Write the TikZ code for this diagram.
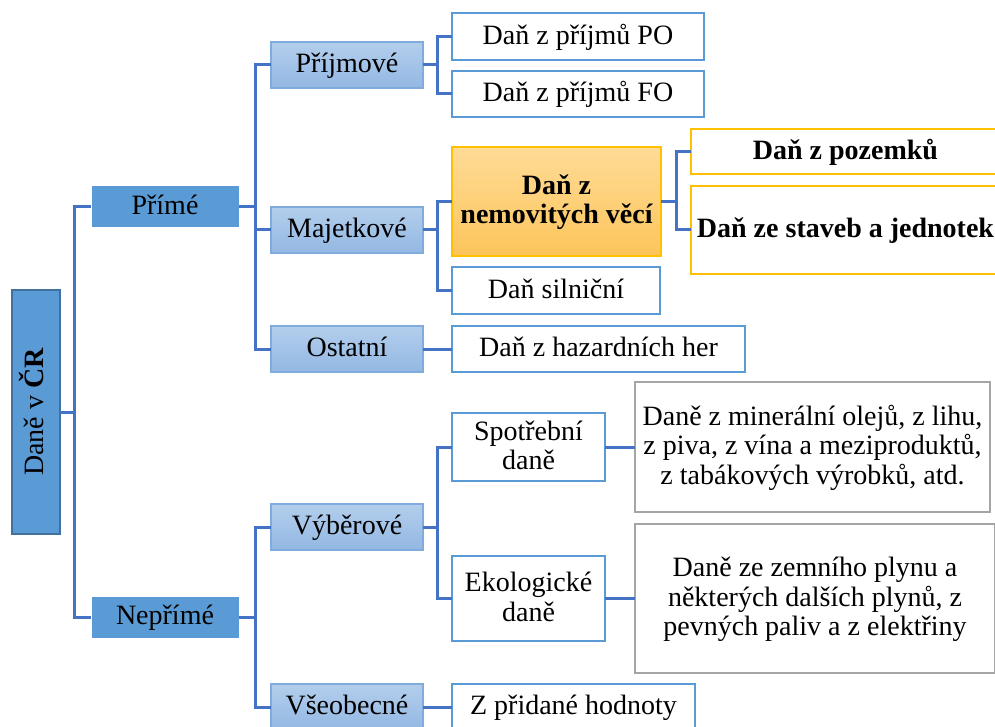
\documentclass[tikz,border=0pt]{standalone}
\usepackage{fontspec}
\setmainfont{Liberation Serif}
\definecolor{midblue}{HTML}{5B9BD5}
\definecolor{rootedge}{HTML}{41719C}
\definecolor{linkblue}{HTML}{4472C4}
\definecolor{paletop}{HTML}{B3CEEC}
\definecolor{palebot}{HTML}{93B8E3}
\definecolor{paleedge}{HTML}{7FACDD}
\definecolor{ambertop}{HTML}{FFDB97}
\definecolor{amberbot}{HTML}{FCC55A}
\definecolor{amberedge}{HTML}{FFC000}
\definecolor{greyedge}{HTML}{A5A5A5}
% fixed ascent for the first line of a multi-line label
\newcommand\topstrut{\rule{0pt}{25.5pt}}
\begin{document}
\begin{tikzpicture}[x=1pt,y=-1pt,
  every node/.style={inner sep=0pt,outer sep=0pt,align=center,
    font=\fontsize{28}{29.5}\selectfont,
    % fixed ascent and descent, so every label sits at the same height in its box
    execute at begin node={\rule{0pt}{25.5pt}},
    execute at end node={\rule[-10pt]{0pt}{0pt}}},
  rootbox/.style={fill=midblue,draw=rootedge,line width=2pt},
  mainbox/.style={fill=midblue,draw=white,line width=1pt},
  groupbox/.style={top color=paletop,bottom color=palebot,draw=paleedge,line width=1.6pt},
  leafbox/.style={fill=white,draw=midblue,line width=2.6pt},
  amberbox/.style={top color=ambertop,bottom color=amberbot,draw=amberedge,line width=1.6pt,
    font=\fontsize{28}{28.5}\selectfont\bfseries},
  goldbox/.style={fill=white,draw=amberedge,line width=2.6pt,font=\fontsize{28}{29.5}\selectfont\bfseries},
  greybox/.style={fill=white,draw=greyedge,line width=2.6pt},
  link/.style={draw=linkblue,line width=3pt}]
\useasboundingbox (0,0) rectangle (995,727);

% root
\node[rootbox,rotate=90,minimum width=244pt,minimum height=48pt] (root) at (36,412) {Daně v \textbf{ČR}};

% first level
\node[mainbox,minimum width=148pt,minimum height=42pt] (prime) at (165,207) {Přímé};
\node[mainbox,minimum width=148pt,minimum height=42pt] (neprime) at (165,617) {Nepřímé};

% second level
\node[groupbox,minimum width=152pt,minimum height=46pt] (prijm) at (347,65) {Příjmové};
\node[groupbox,minimum width=152pt,minimum height=46pt] (majet) at (347,230) {Majetkové};
\node[groupbox,minimum width=152pt,minimum height=46pt] (ostat) at (347,349) {Ostatní};
\node[groupbox,minimum width=152pt,minimum height=46pt] (vyber) at (347,527) {Výběrové};
\node[groupbox,minimum width=152pt,minimum height=46pt] (vseob) at (347,707) {Všeobecné};

% third level
\node[leafbox,minimum width=252pt,minimum height=47pt] (po) at (578,36.5) {Daň z příjmů PO};
\node[leafbox,minimum width=252pt,minimum height=46pt] (fo) at (578,94) {Daň z příjmů FO};
\node[amberbox,minimum width=209pt,minimum height=109pt] (nemov) at (556.5,201.5) {\topstrut Daň z\\nemovitých věcí};
\node[leafbox,minimum width=208pt,minimum height=47pt] (silnic) at (556,290.5) {Daň silniční};
\node[leafbox,minimum width=293pt,minimum height=46pt] (hazard) at (598.5,349) {Daň z hazardních her};
\node[leafbox,minimum width=153pt,minimum height=68pt] (spotr) at (528.5,447) {\topstrut Spotřební\\daně};
\node[leafbox,minimum width=153pt,minimum height=85pt] (ekol) at (528.5,598.5) {\topstrut Ekologické\\daně};
\node[leafbox,minimum width=243pt,minimum height=46pt] (dph) at (573.5,707) {Z přidané hodnoty};

% fourth level
\node[goldbox,minimum width=309pt,minimum height=45pt] (pozem) at (845.5,151.5) {Daň z pozemků};
\node[goldbox,minimum width=309pt,minimum height=88pt] (staveb) at (845.5,230) {Daň ze staveb a jednotek};
\node[greybox,minimum width=355pt,minimum height=130pt] (spotrlist) at (812.5,447)
  {\topstrut Daně z minerální olejů, z lihu,\\z piva, z vína a meziproduktů,\\z tabákových výrobků, atd.};
\node[greybox,minimum width=360pt,minimum height=149pt] (ekollist) at (815,598.5)
  {\topstrut Daně ze zemního plynu a\\některých dalších plynů, z\\pevných paliv a z elektřiny};

% connectors
\draw[link] (root.south) -- ++(14,0) |- (prime.west);
\draw[link] (root.south) -- ++(14,0) |- (neprime.west);
\draw[link] (prime.east) -- ++(16,0) |- (prijm.west);
\draw[link] (prime.east) -- ++(16,0) |- (majet.west);
\draw[link] (prime.east) -- ++(16,0) |- (ostat.west);
\draw[link] (neprime.east) -- ++(16,0) |- (vyber.west);
\draw[link] (neprime.east) -- ++(16,0) |- (vseob.west);
\draw[link] (prijm.east) -- ++(14,0) |- (po.west);
\draw[link] (prijm.east) -- ++(14,0) |- (fo.west);
\draw[link] (majet.east) -- ++(14,0) |- (nemov.west);
\draw[link] (majet.east) -- ++(14,0) |- (silnic.west);
\draw[link] (ostat.east) -- (hazard.west);
\draw[link] (vyber.east) -- ++(14,0) |- (spotr.west);
\draw[link] (vyber.east) -- ++(14,0) |- (ekol.west);
\draw[link] (vseob.east) -- (dph.west);
\draw[link] (nemov.east) -- ++(15,0) |- (pozem.west);
\draw[link] (nemov.east) -- ++(15,0) |- (staveb.west);
\draw[link] (spotr.east) -- (spotrlist.west);
\draw[link] (ekol.east) -- (ekollist.west);
\end{tikzpicture}
\end{document}
